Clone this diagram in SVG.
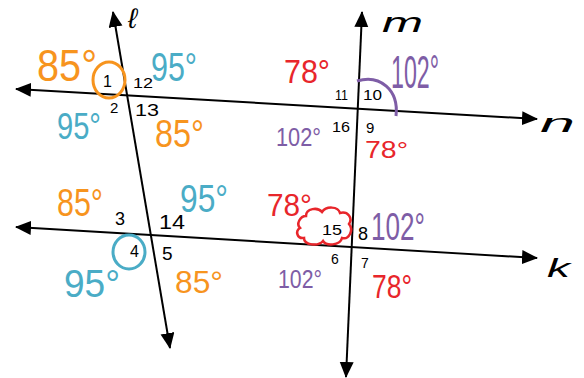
<svg xmlns="http://www.w3.org/2000/svg" width="584" height="378" viewBox="0 0 584 378">
<defs>
<marker id="ah" markerUnits="userSpaceOnUse" markerWidth="18" markerHeight="16" refX="15" refY="7" orient="auto-start-reverse">
<path d="M0,0 L16,7 L0,14 z" fill="#000"/>
</marker>
<style>
.ln{stroke:#000;stroke-width:2;fill:none;marker-start:url(#ah);marker-end:url(#ah)}
text{font-family:"Liberation Sans",Arial,sans-serif}
.n{fill:#000}
.o{fill:#F7941E}
.b{fill:#4AACC6}
.r{fill:#E8262B}
.p{fill:#7E5DA6}
.lab{fill:#000;font-style:italic}
</style>
</defs>
<rect width="584" height="378" fill="#fff"/>
<g id="connectors">
<line id="line-l" class="ln" x1="113" y1="12" x2="170" y2="348"/>
<line id="line-m" class="ln" x1="362" y1="12" x2="346" y2="377"/>
<line id="line-n" class="ln" x1="16" y1="89" x2="537" y2="119"/>
<line id="line-k" class="ln" x1="16" y1="227" x2="537" y2="258"/>
</g>
<g id="line-labels">
<text class="lab" x="128" y="28" font-size="28" font-family="Liberation Serif">ℓ</text>
<text class="lab" x="382" y="32" font-size="28" textLength="41" lengthAdjust="spacingAndGlyphs">m</text>
<text class="lab" x="540" y="132" font-size="26" textLength="35" lengthAdjust="spacingAndGlyphs">n</text>
<text class="lab" x="547" y="277" font-size="26" textLength="23" lengthAdjust="spacingAndGlyphs">k</text>
</g>
<g id="marks" fill="none" stroke-width="3">
<ellipse cx="109" cy="80" rx="16" ry="18" stroke="#F7941E"/>
<ellipse cx="129" cy="252" rx="16" ry="17" stroke="#4AACC6"/>
<path d="M357,81 C380,74 399,90 396,116" stroke="#7E5DA6"/>
<path d="M306,216 C306,208 318,207 322,212 C326,206 338,206 340,213 C348,211 353,218 349,224 C354,230 349,240 342,238 C340,246 326,246 323,241 C318,247 304,245 304,238 C297,239 295,231 300,228 C296,224 300,216 306,216 z" stroke="#E8262B" stroke-width="2.5"/>
</g>
<g id="angle-numbers" class="n">
<text x="103" y="87" font-size="16">1</text>
<text x="133" y="88" font-size="14" textLength="20" lengthAdjust="spacingAndGlyphs">12</text>
<text x="110" y="113" font-size="15">2</text>
<text x="135" y="116" font-size="17" textLength="24" lengthAdjust="spacingAndGlyphs">13</text>
<text x="335" y="100" font-size="15" textLength="13" lengthAdjust="spacingAndGlyphs">11</text>
<text x="363" y="100" font-size="15" textLength="19" lengthAdjust="spacingAndGlyphs">10</text>
<text x="332" y="132" font-size="15" textLength="18" lengthAdjust="spacingAndGlyphs">16</text>
<text x="366" y="133" font-size="15">9</text>
<text x="115" y="225" font-size="18">3</text>
<text x="159" y="229" font-size="20" textLength="26" lengthAdjust="spacingAndGlyphs">14</text>
<text x="130" y="257" font-size="16">4</text>
<text x="162" y="260" font-size="19">5</text>
<text x="322" y="235" font-size="14" textLength="20" lengthAdjust="spacingAndGlyphs">15</text>
<text x="358" y="240" font-size="18">8</text>
<text x="331" y="264" font-size="14">6</text>
<text x="361" y="268" font-size="14">7</text>
</g>
<g id="angle-values">
<text class="o" x="37" y="81" font-size="44" textLength="60" lengthAdjust="spacingAndGlyphs">85°</text>
<text class="b" x="151" y="81" font-size="40" textLength="46" lengthAdjust="spacingAndGlyphs">95°</text>
<text class="b" x="57" y="139" font-size="36" textLength="44" lengthAdjust="spacingAndGlyphs">95°</text>
<text class="o" x="155" y="147" font-size="38" textLength="49" lengthAdjust="spacingAndGlyphs">85°</text>
<text class="r" x="284" y="83" font-size="34" textLength="46" lengthAdjust="spacingAndGlyphs">78°</text>
<text class="p" x="391" y="88" font-size="46" textLength="48" lengthAdjust="spacingAndGlyphs">102°</text>
<text class="p" x="276" y="146" font-size="26" textLength="45" lengthAdjust="spacingAndGlyphs">102°</text>
<text class="r" x="365" y="158" font-size="24" textLength="43" lengthAdjust="spacingAndGlyphs">78°</text>
<text class="o" x="57" y="216" font-size="38" textLength="46" lengthAdjust="spacingAndGlyphs">85°</text>
<text class="b" x="180" y="212" font-size="38" textLength="48" lengthAdjust="spacingAndGlyphs">95°</text>
<text class="b" x="64" y="297" font-size="38" textLength="56" lengthAdjust="spacingAndGlyphs">95°</text>
<text class="o" x="175" y="293" font-size="32" textLength="48" lengthAdjust="spacingAndGlyphs">85°</text>
<text class="r" x="267" y="216" font-size="32" textLength="45" lengthAdjust="spacingAndGlyphs">78°</text>
<text class="p" x="371" y="240" font-size="38" textLength="54" lengthAdjust="spacingAndGlyphs">102°</text>
<text class="p" x="278" y="288" font-size="25" textLength="44" lengthAdjust="spacingAndGlyphs">102°</text>
<text class="r" x="372" y="298" font-size="34" textLength="40" lengthAdjust="spacingAndGlyphs">78°</text>
</g>
</svg>
